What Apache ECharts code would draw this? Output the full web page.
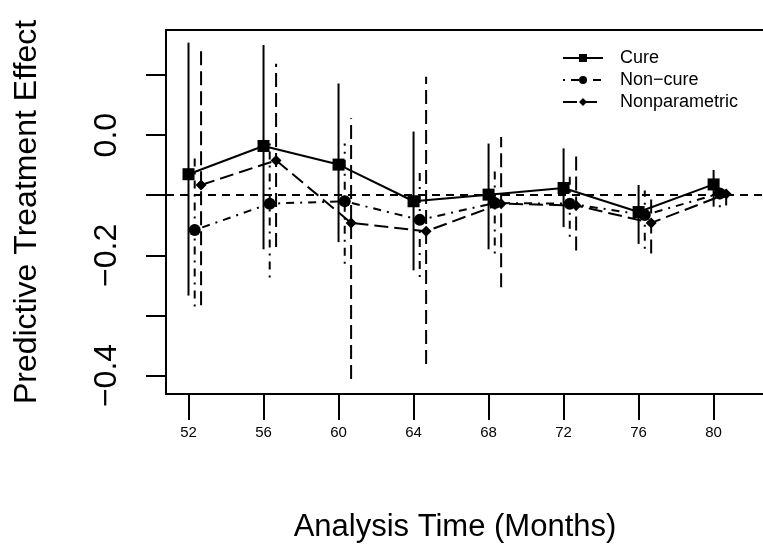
<!DOCTYPE html>
<html>
<head>
<meta charset="utf-8">
<script src="https://cdn.jsdelivr.net/npm/echarts@6/dist/echarts.min.js"></script>
<style>
html,body{margin:0;padding:0;background:#fff;}
#chart{width:763px;height:560px;}
</style>
</head>
<body>
<div id="chart"></div>
<script>
// ---- data ----
var months = [52, 56, 60, 64, 68, 72, 76, 80];
var yTickValues = [-0.4, -0.3, -0.2, -0.1, 0.0, 0.1];
var yLabelValues = [-0.4, -0.2, 0.0];
var refLine = -0.1;

var cureEst = [-0.065, -0.018, -0.049, -0.110, -0.099, -0.088, -0.128, -0.082];
var cureLo  = [-0.267, -0.190, -0.178, -0.225, -0.190, -0.153, -0.181, -0.119];
var cureHi  = [ 0.154,  0.150,  0.086,  0.006, -0.014, -0.022, -0.083, -0.058];

var nonEst = [-0.158, -0.114, -0.110, -0.141, -0.113, -0.114, -0.133, -0.097];
var nonLo  = [-0.285, -0.237, -0.214, -0.236, -0.197, -0.169, -0.189, -0.120];
var nonHi  = [-0.031, -0.006, -0.014, -0.056, -0.056, -0.068, -0.092, -0.090];

var npEst = [-0.083, -0.042, -0.146, -0.160, -0.114, -0.117, -0.146, -0.098];
var npLo  = [-0.283, -0.186, -0.406, -0.381, -0.253, -0.192, -0.197, -0.117];
var npHi  = [ 0.147,  0.119,  0.028,  0.097, -0.003, -0.035, -0.106, -0.086];

var seriesNames = ['Cure', 'Non\u2212cure', 'Nonparametric'];
var xTitle = 'Analysis Time (Months)';
var yTitle = 'Predictive Treatment Effect';

// ---- presentation ----
var FONT = 'Liberation Sans, Arial, Helvetica, sans-serif';
var offsets = [0, 0.33, 0.67];
var dashes = ['solid', [2, 6, 8, 6], [14, 6]];
var symbols = ['rect', 'circle', 'diamond'];
var symSizes = [12, 12, 11];

function pts(est, off) { return months.map(function (m, i) { return [m + off, est[i]]; }); }
function bars(lo, hi, off) { return months.map(function (m, i) { return [m + off, lo[i], hi[i]]; }); }
function fmt(v) { return (v < 0 ? '\u2212' : '') + Math.abs(v).toFixed(1); }

var estList = [cureEst, nonEst, npEst];
var loList = [cureLo, nonLo, npLo];
var hiList = [cureHi, nonHi, npHi];

var series = [];
for (var k = 0; k < 3; k++) {
  (function (k) {
    var dash = dashes[k];
    series.push({
      name: seriesNames[k] + ' CI',
      type: 'custom',
      data: bars(loList[k], hiList[k], offsets[k]),
      encode: { x: 0, y: [1, 2] },
      silent: true,
      renderItem: function (params, api) {
        var p1 = api.coord([api.value(0), api.value(1)]);
        var p2 = api.coord([api.value(0), api.value(2)]);
        return {
          type: 'line',
          shape: { x1: p1[0], y1: p1[1], x2: p2[0], y2: p2[1] },
          style: { stroke: '#000', lineWidth: 2, lineDash: dash === 'solid' ? null : dash }
        };
      }
    });
  })(k);
}
for (var j = 0; j < 3; j++) {
  var s = {
    name: seriesNames[j],
    type: 'line',
    data: pts(estList[j], offsets[j]),
    symbol: symbols[j],
    symbolSize: symSizes[j],
    showSymbol: true,
    itemStyle: { color: '#000' },
    lineStyle: { color: '#000', width: 2, type: dashes[j] },
    z: 3
  };
  if (j === 0) {
    s.markLine = {
      silent: true,
      symbol: ['none', 'none'],
      label: { show: false },
      lineStyle: { color: '#000', width: 2, type: [8, 6] },
      data: [{ yAxis: refLine }]
    };
  }
  series.push(s);
}

var chart = echarts.init(document.getElementById('chart'), null, { renderer: 'canvas' });
chart.setOption({
  animation: false,
  backgroundColor: '#fff',
  textStyle: { fontFamily: FONT, color: '#000' },
  grid: {
    left: 166, top: 30, width: 617, bottom: 166,
    outerBoundsMode: 'none',
    containLabel: false,
    show: true, borderColor: '#000', borderWidth: 2, backgroundColor: 'transparent'
  },
  legend: {
    data: seriesNames,
    orient: 'vertical',
    left: 557, top: 44,
    itemWidth: 40, itemHeight: 10, itemGap: 4,
    textStyle: { fontFamily: FONT, fontSize: 18, color: '#000', padding: [0, 0, 0, 12] },
    inactiveColor: '#000'
  },
  graphic: [{
    type: 'text',
    x: 455, y: 527,
    silent: true,
    style: { text: xTitle, font: '31px ' + FONT, fill: '#000', align: 'center', verticalAlign: 'middle' }
  }],
  xAxis: {
    type: 'value',
    min: 50.8, max: 83.7,
    splitLine: { show: false },
    axisLine: { show: false, onZero: false },
    axisTick: { show: true, customValues: months, length: 26, lineStyle: { color: '#000', width: 2 } },
    axisLabel: { show: true, customValues: months, fontSize: 15, margin: 31, color: '#000', fontFamily: FONT }
  },
  yAxis: {
    type: 'value',
    min: -0.4308, max: 0.175,
    name: yTitle,
    nameLocation: 'middle',
    nameGap: 123,
    nameTextStyle: { fontFamily: FONT, fontSize: 32, color: '#000' },
    splitLine: { show: false },
    axisLine: { show: false, onZero: false },
    axisTick: { show: true, customValues: yTickValues, length: 20, lineStyle: { color: '#000', width: 2 } },
    axisLabel: { show: true, customValues: yLabelValues, rotate: 90, fontSize: 32, margin: 43, color: '#000', fontFamily: FONT, formatter: fmt }
  },
  series: series
});
</script>
</body>
</html>
